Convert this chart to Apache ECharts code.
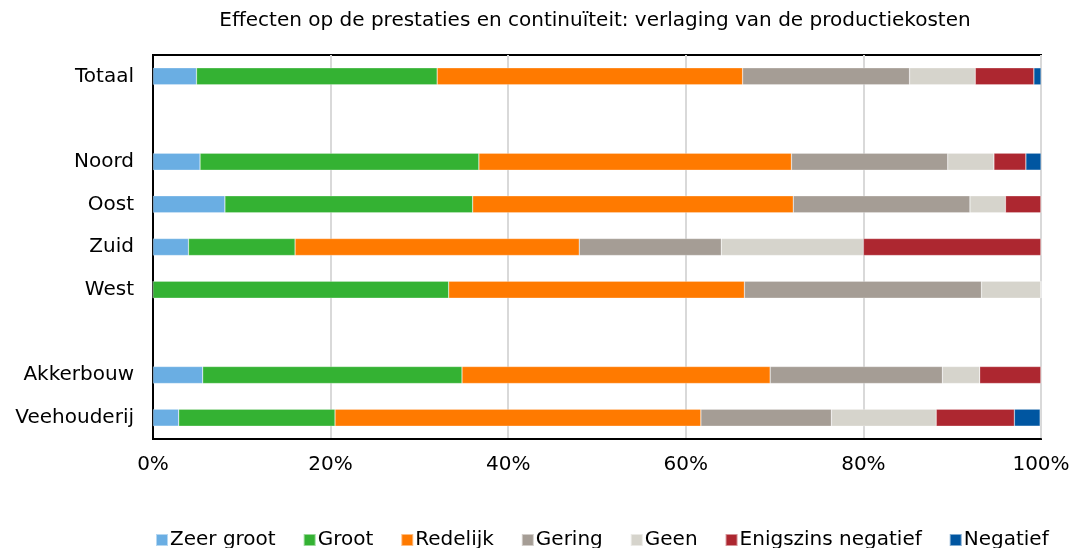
<!DOCTYPE html>
<html><head><meta charset="utf-8">
<script src="https://cdn.jsdelivr.net/npm/echarts@6/dist/echarts.min.js"></script>
<style>html,body{margin:0;padding:0;background:#fff}#c{width:1073px;height:548px}</style>
</head><body><div id="c"></div>
<script>
const categories = ['Totaal', ' ', 'Noord', 'Oost', 'Zuid', 'West', '  ', 'Akkerbouw', 'Veehouderij'];
const seriesNames = ['Zeer groot', 'Groot', 'Redelijk', 'Gering', 'Geen', 'Enigszins negatief', 'Negatief'];
const zeerGroot = [4.9, null, 5.3, 8.1, 4.0, 0, null, 5.6, 2.9];
const groot = [27.1, null, 31.4, 27.9, 12.0, 33.3, null, 29.2, 17.6];
const redelijk = [34.4, null, 35.2, 36.1, 32.0, 33.3, null, 34.7, 41.2];
const gering = [18.8, null, 17.6, 19.9, 16.0, 26.7, null, 19.4, 14.7];
const geen = [7.4, null, 5.2, 4.0, 16.0, 6.7, null, 4.2, 11.8];
const enigszinsNegatief = [6.6, null, 3.6, 4.0, 20.0, 0, null, 6.9, 8.8];
const negatief = [0.8, null, 1.7, 0, 0, 0, null, 0, 2.9];
const xTicks = [0, 20, 40, 60, 80, 100];
const colors = ['#6AAEE3', '#34B233', '#FF7A00', '#A59D95', '#D6D4CC', '#AD2730', '#0056A1'];
const values = [zeerGroot, groot, redelijk, gering, geen, enigszinsNegatief, negatief];
const font = 'Verdana, "DejaVu Sans", sans-serif';

const chart = echarts.init(document.getElementById('c'));
chart.setOption({
  animation: false,
  color: colors,
  title: {
    text: 'Effecten op de prestaties en continuïteit: verlaging van de productiekosten',
    left: 590, top: 6, textAlign: 'center',
    textStyle: { fontFamily: font, fontSize: 20, fontWeight: 'normal', color: '#000' }
  },
  legend: {
    top: 525, left: 150,
    itemWidth: 12, itemHeight: 12, itemGap: 27,
    icon: 'rect',
    textStyle: { fontFamily: font, fontSize: 20, color: '#000', padding: [0, 0, 0, -3] },
    data: seriesNames
  },
  grid: { left: 153, right: 32, top: 55, bottom: 109, show: true, borderColor: '#000', borderWidth: 2, containLabel: false },
  xAxis: {
    type: 'value', min: 0, max: 100, interval: 20,
    axisLine: { show: true, lineStyle: { color: '#000', width: 2 } },
    axisTick: { show: false },
    splitLine: { show: true, lineStyle: { color: '#D9D9D9', width: 2 } },
    axisLabel: { formatter: v => xTicks.includes(v) ? v + '%' : '', fontFamily: font, fontSize: 20, color: '#000', margin: 16 }
  },
  yAxis: {
    type: 'category', data: categories, inverse: true,
    axisLine: { show: true, lineStyle: { color: '#000', width: 2 } },
    axisTick: { show: false },
    axisLabel: { fontFamily: font, fontSize: 20, color: '#000', margin: 19 }
  },
  series: seriesNames.map((n, i) => ({
    name: n, type: 'bar', stack: 'total', barWidth: 17,
    data: values[i],
    itemStyle: { color: colors[i], borderColor: 'rgba(255,255,255,0.5)', borderWidth: 0.5 }
  }))
});
</script></body></html>
